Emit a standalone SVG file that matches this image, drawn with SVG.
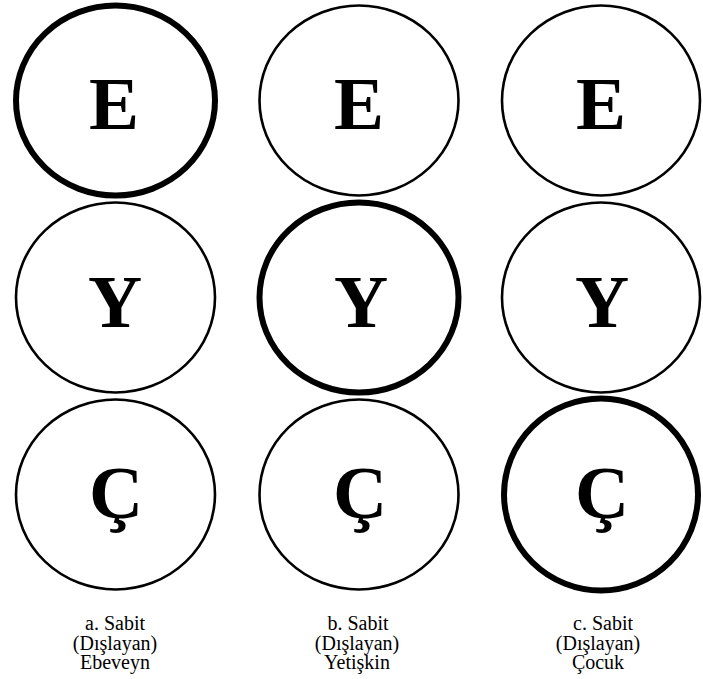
<svg xmlns="http://www.w3.org/2000/svg" width="703" height="679" viewBox="0 0 703 679">
<style>
.c{fill:#fff;stroke:#000;stroke-width:2.6}
.k{stroke-width:6}
.L{font-family:"Liberation Serif","Times New Roman",serif;font-weight:bold;font-size:75px;text-anchor:middle;fill:#000}
.t{font-family:"Liberation Serif","Times New Roman",serif;font-size:20px;text-anchor:middle;fill:#000}
</style>
<rect width="703" height="679" fill="#fff"/>
<g id="connectors"/>
<g id="a-E"><ellipse class="c k" cx="115.5" cy="100.5" rx="99.5" ry="95"/><text class="L" x="114" y="129">E</text></g>
<g id="a-Y"><ellipse class="c" cx="115.5" cy="297.5" rx="99.5" ry="95"/><text class="L" x="115" y="327">Y</text></g>
<g id="a-C"><ellipse class="c" cx="115.5" cy="494.5" rx="99.5" ry="95"/><text class="L" x="116" y="518">Ç</text></g>
<g id="b-E"><ellipse class="c" cx="359" cy="100.5" rx="99.5" ry="95"/><text class="L" x="359" y="129">E</text></g>
<g id="b-Y"><ellipse class="c k" cx="359" cy="297.5" rx="99.5" ry="95"/><text class="L" x="361" y="327">Y</text></g>
<g id="b-C"><ellipse class="c" cx="359" cy="494.5" rx="99.5" ry="95"/><text class="L" x="360" y="518">Ç</text></g>
<g id="c-E"><ellipse class="c" cx="601" cy="100.5" rx="99" ry="95"/><text class="L" x="601" y="129">E</text></g>
<g id="c-Y"><ellipse class="c" cx="601" cy="297.5" rx="99" ry="95"/><text class="L" x="602" y="327">Y</text></g>
<g id="c-C"><ellipse class="c k" cx="601" cy="494.5" rx="97" ry="96"/><text class="L" x="602" y="518">Ç</text></g>
<g id="label-a"><text class="t" x="115" y="630">a. Sabit</text><text class="t" x="115" y="650">(Dışlayan)</text><text class="t" x="115" y="669">Ebeveyn</text></g>
<g id="label-b"><text class="t" x="358" y="630">b. Sabit</text><text class="t" x="357" y="650">(Dışlayan)</text><text class="t" x="357" y="669">Yetişkin</text></g>
<g id="label-c"><text class="t" x="603" y="630">c. Sabit</text><text class="t" x="598" y="650">(Dışlayan)</text><text class="t" x="598" y="669">Çocuk</text></g>
</svg>
